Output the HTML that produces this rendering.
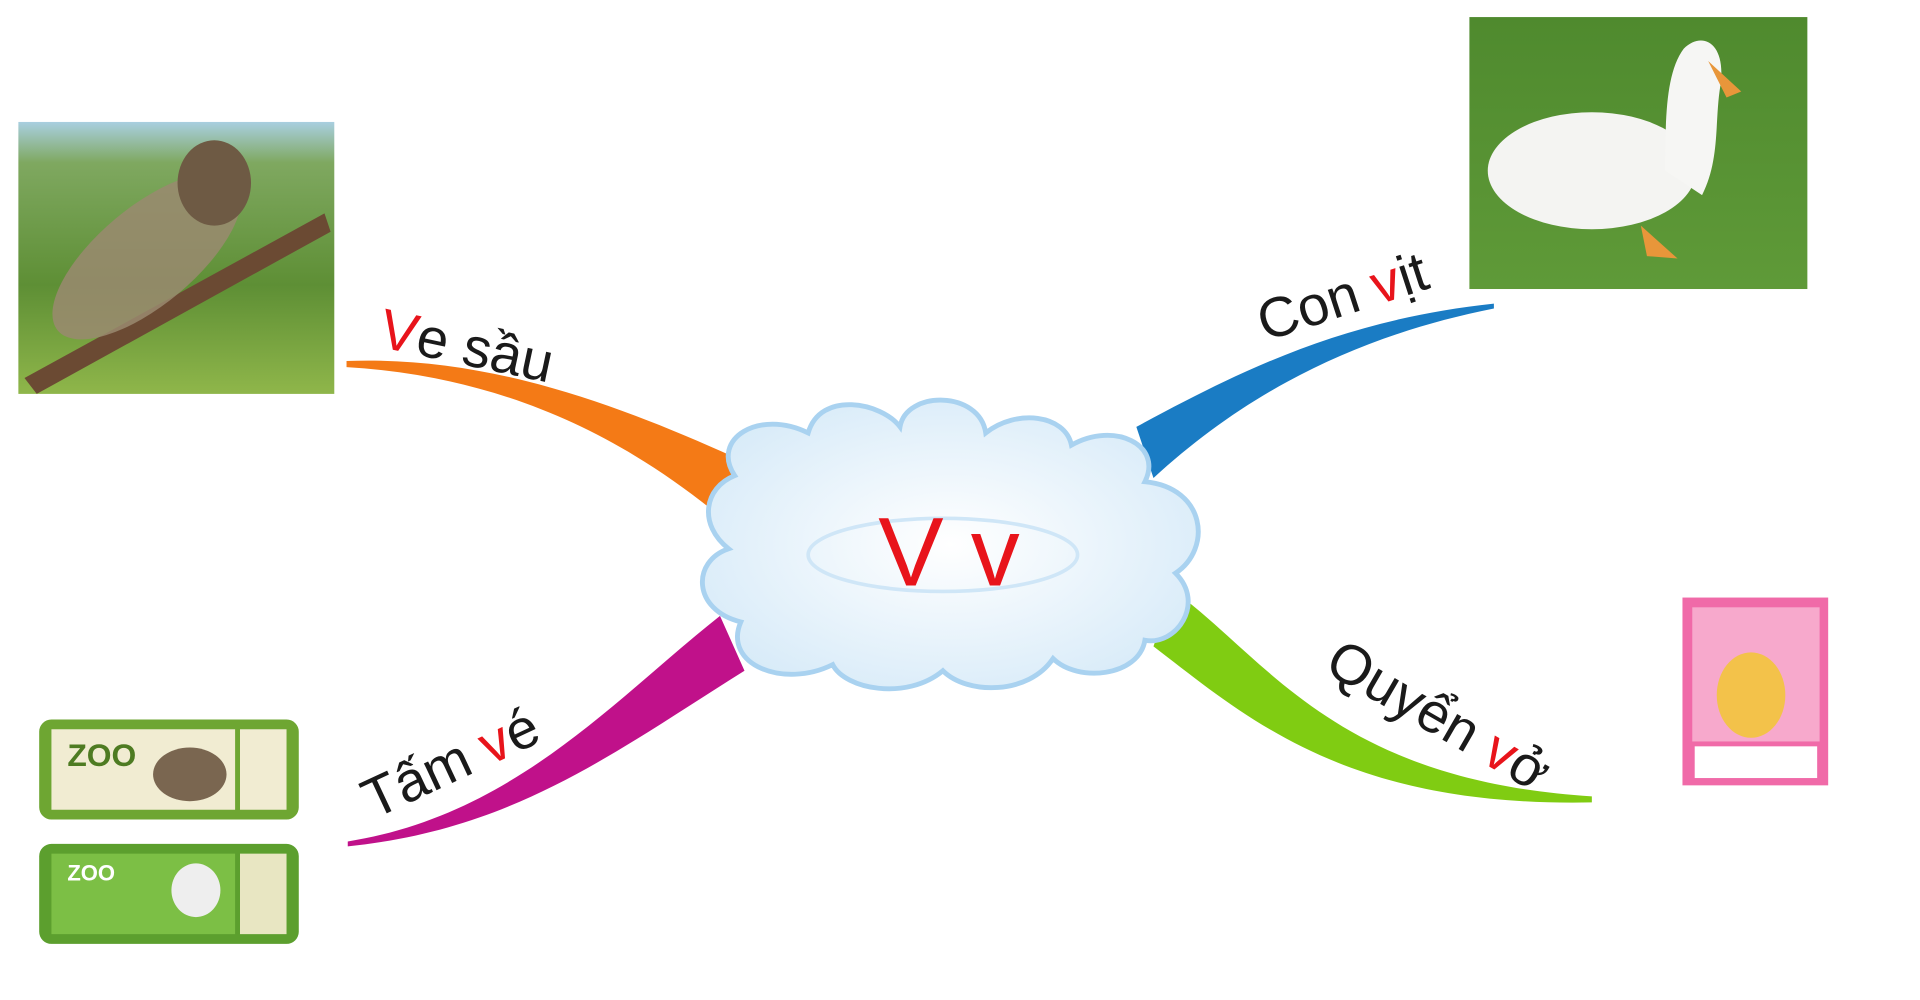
<!DOCTYPE html>
<html><head><meta charset="utf-8"><style>
html,body{margin:0;padding:0;background:#fff;width:1920px;height:1000px;overflow:hidden}
svg{display:block}
text{font-family:"Liberation Sans",sans-serif}
</style></head><body>
<svg width="1920" height="1000" viewBox="0 0 1920 1000" xmlns="http://www.w3.org/2000/svg">
<defs>
<linearGradient id="cic" x1="0" y1="0" x2="0" y2="1"><stop offset="0" stop-color="#a9cfe0"/><stop offset="0.15" stop-color="#7fa860"/><stop offset="0.6" stop-color="#5e8f35"/><stop offset="1" stop-color="#8fb64a"/></linearGradient>
<linearGradient id="grass" x1="0" y1="0" x2="0" y2="1"><stop offset="0" stop-color="#4f8a2e"/><stop offset="1" stop-color="#5f9a38"/></linearGradient>
<radialGradient id="cl" cx="0.5" cy="0.5" r="0.6"><stop offset="0" stop-color="#ffffff"/><stop offset="1" stop-color="#d6eaf8"/></radialGradient>
</defs>
<g transform="scale(1.2245,1.2195)">
<rect x="15" y="100" width="258" height="223" fill="url(#cic)"/>
<path d="M20,310 L265,175 L270,190 L30,323 Z" fill="#6b4a33"/>
<ellipse cx="120" cy="210" rx="95" ry="40" transform="rotate(-40 120 210)" fill="#9a8a70" opacity="0.85"/>
<ellipse cx="175" cy="150" rx="30" ry="35" fill="#6e5a44"/>
<rect x="1200" y="14" width="276" height="223" fill="url(#grass)"/>
<ellipse cx="1300" cy="140" rx="85" ry="48" fill="#f4f4f2"/>
<path d="M1360,140 C1360,100 1360,60 1375,40 C1390,25 1410,35 1405,70 C1400,100 1405,130 1390,160 Z" fill="#f6f6f4"/>
<path d="M1395,50 L1422,75 L1410,80 Z" fill="#e8963a"/>
<path d="M1340,185 L1345,210 L1370,212 Z" fill="#e8963a"/>
<rect x="32" y="590" width="212" height="82" rx="10" fill="#6ea632"/>
<rect x="42" y="598" width="150" height="66" fill="#f1ecd2"/>
<rect x="196" y="598" width="38" height="66" fill="#f1ecd2"/>
<text x="55" y="628" font-size="26" font-weight="bold" fill="#4e7b22">ZOO</text>
<ellipse cx="155" cy="635" rx="30" ry="22" fill="#7a6650"/>
<rect x="32" y="692" width="212" height="82" rx="10" fill="#5c9f2e"/>
<rect x="42" y="700" width="150" height="66" fill="#7cbf45"/>
<rect x="196" y="700" width="38" height="66" fill="#e8e6c2"/>
<text x="55" y="722" font-size="18" font-weight="bold" fill="#fff">ZOO</text>
<ellipse cx="160" cy="730" rx="20" ry="22" fill="#eee"/>
<rect x="1374" y="490" width="119" height="154" fill="#f06aa8"/>
<rect x="1382" y="498" width="104" height="110" fill="#f7a9cc"/>
<ellipse cx="1430" cy="570" rx="28" ry="35" fill="#f3c24a"/>
<rect x="1384" y="612" width="100" height="26" fill="#fff"/>
<path d="M283,296 C390,292 490,325 600,375 L590,425 C500,350 400,308 283,301 Z" fill="#f47a16"/>
<path d="M1220,249 C1100,262 1020,300 928,350 L942,392 C1020,320 1110,275 1220,253 Z" fill="#1a7cc4"/>
<path d="M284,690 C420,668 500,575 588,505 L608,550 C500,618 420,680 284,694 Z" fill="#c0118a"/>
<path d="M958,484 C1035,540 1090,640 1300,653 L1300,658 C1100,662 1020,590 942,530 Z" fill="#80cc12"/>
<g fill="url(#cl)" stroke="#a9d2f0" stroke-width="4">
<path d="M600,390 C580,360 620,335 660,355 C670,320 720,330 735,350 C740,320 800,320 805,355 C830,335 870,340 875,365 C910,345 950,365 935,395 C985,400 990,450 960,470 C985,495 960,530 935,525 C930,555 880,560 860,540 C840,570 790,570 770,550 C740,575 690,565 680,545 C640,565 590,545 605,510 C565,500 565,460 595,450 C570,430 575,400 600,390 Z"/>
</g>
<ellipse cx="770" cy="455" rx="110" ry="30" fill="none" stroke="#cfe6f7" stroke-width="3"/>
<text x="775" y="480" font-size="80" fill="#e8141b" text-anchor="middle">V v</text>
<text transform="translate(308,284) rotate(12)" font-size="46" fill="#1a1a1a"><tspan fill="#e8141b">V</tspan>e sầu</text>
<text transform="translate(1033,280) rotate(-18)" font-size="46" fill="#1a1a1a">Con <tspan fill="#e8141b">v</tspan>ịt</text>
<text transform="translate(305,672) rotate(-25)" font-size="46" fill="#1a1a1a">Tấm <tspan fill="#e8141b">v</tspan>é</text>
<text transform="translate(1080,550) rotate(30)" font-size="46" fill="#1a1a1a">Quyển <tspan fill="#e8141b">v</tspan>ở</text>
</g>
</svg>
</body></html>
